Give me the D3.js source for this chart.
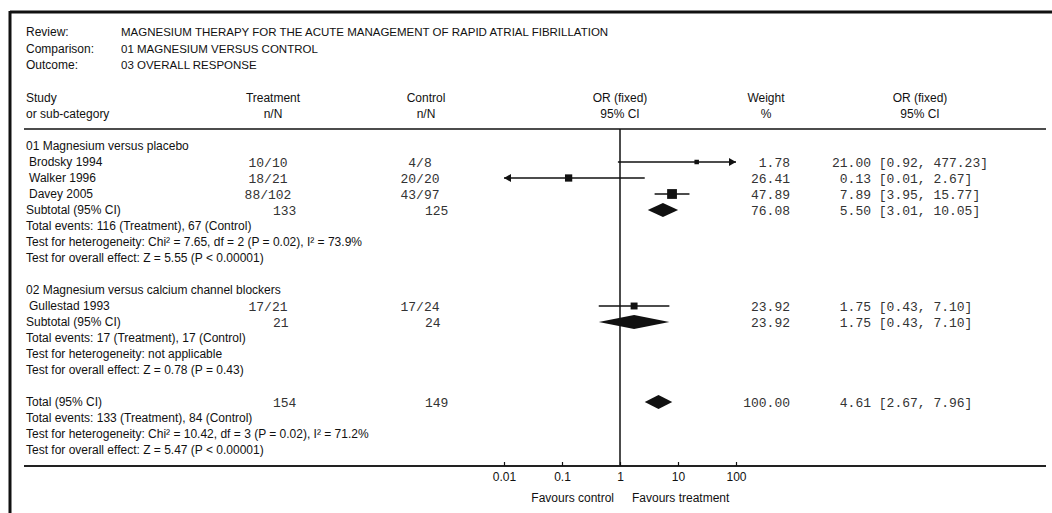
<!DOCTYPE html>
<html>
<head>
  <meta charset="utf-8">
  <title>Forest plot</title>
<style>
  body { margin: 0; background: #fff; }
  .sans { font-family: "Liberation Sans", Arial, sans-serif; font-size: 12px; fill: #111; }
  .caps { font-family: "Liberation Sans", Arial, sans-serif; font-size: 11.5px; fill: #111; }
  .mono { font-family: "Liberation Mono", "Courier New", monospace; font-size: 13px; fill: #333; }
  .axis text { font-family: "Liberation Sans", Arial, sans-serif; font-size: 12px; fill: #111; }
  .axis line { stroke: #111; stroke-width: 1.2; }
</style>
</head>
<body>
<svg width="1052" height="513"></svg>
<script src="https://d3js.org/d3.v7.min.js"></script>
<script>

// header
var headLabels = ["Review:", "Comparison:", "Outcome:"];
var headValues = ["MAGNESIUM THERAPY FOR THE ACUTE MANAGEMENT OF RAPID ATRIAL FIBRILLATION",
                  "01 MAGNESIUM VERSUS CONTROL", "03 OVERALL RESPONSE"];

// studies
var studies   = ["Brodsky 1994", "Walker 1996", "Davey 2005", "Gullestad 1993"];
var studyRow  = [1, 2, 3, 10];
var treatment = ["10/10", "18/21", "88/102", "17/21"];
var control   = ["4/8", "20/20", "43/97", "17/24"];
var weight    = [1.78, 26.41, 47.89, 23.92];
var oddsRatio = [21.00, 0.13, 7.89, 1.75];
var ciLow     = [0.92, 0.01, 3.95, 0.43];
var ciHigh    = [477.23, 2.67, 15.77, 7.10];

// subtotals and total
var sumLabels = ["Subtotal (95% CI)", "Subtotal (95% CI)", "Total (95% CI)"];
var sumRow    = [4, 11, 16];
var sumTreatN = [133, 21, 154];
var sumCtrlN  = [125, 24, 149];
var sumWeight = [76.08, 23.92, 100.00];
var sumOR     = [5.50, 1.75, 4.61];
var sumLow    = [3.01, 0.43, 2.67];
var sumHigh   = [10.05, 7.10, 7.96];

// group headings and footnotes
var groupNames = ["01 Magnesium versus placebo", "02 Magnesium versus calcium channel blockers"];
var groupRow   = [0, 9];
var notes = [
  "Total events: 116 (Treatment), 67 (Control)",
  "Test for heterogeneity: Chi\u00b2 = 7.65, df = 2 (P = 0.02), I\u00b2 = 73.9%",
  "Test for overall effect: Z = 5.55 (P < 0.00001)",
  "Total events: 17 (Treatment), 17 (Control)",
  "Test for heterogeneity: not applicable",
  "Test for overall effect: Z = 0.78 (P = 0.43)",
  "Total events: 133 (Treatment), 84 (Control)",
  "Test for heterogeneity: Chi\u00b2 = 10.42, df = 3 (P = 0.02), I\u00b2 = 71.2%",
  "Test for overall effect: Z = 5.47 (P < 0.00001)"
];
var noteRow = [5, 6, 7, 12, 13, 14, 17, 18, 19];

var tickValues = [0.01, 0.1, 1, 10, 100];

var svg = d3.select("svg");

var x = d3.scaleLog().domain([0.01, 100]).range([504, 736]);
var y = d3.scaleLinear().domain([0, 19]).range([146, 450]);
var box = d3.scaleSqrt().domain([0, 50]).range([0, 10]);

var fmt2 = d3.format(".2f");

// frame
svg.append("line").attr("x1", 10).attr("x2", 1052).attr("y1", 12).attr("y2", 12)
    .attr("stroke", "#111").attr("stroke-width", 3);
svg.append("line").attr("x1", 10).attr("x2", 10).attr("y1", 11).attr("y2", 513)
    .attr("stroke", "#111").attr("stroke-width", 3);

// review info
headLabels.forEach(function(t, i) {
  svg.append("text").attr("class", "sans").attr("x", 26).attr("y", 32 + i * 16.5)
    .attr("dy", "0.35em").text(t);
  svg.append("text").attr("class", "caps").attr("x", 121).attr("y", 32 + i * 16.5)
    .attr("dy", "0.35em").text(headValues[i]);
});

// column headers
var cols = [
  {x: 26,  a: "start",  t: ["Study", "or sub-category"]},
  {x: 273, a: "middle", t: ["Treatment", "n/N"]},
  {x: 426, a: "middle", t: ["Control", "n/N"]},
  {x: 620, a: "middle", t: ["OR (fixed)", "95% CI"]},
  {x: 766, a: "middle", t: ["Weight", "%"]},
  {x: 920, a: "middle", t: ["OR (fixed)", "95% CI"]}
];
cols.forEach(function(c) {
  c.t.forEach(function(t, i) {
    svg.append("text").attr("class", "sans").attr("x", c.x).attr("y", 98 + i * 15.5)
      .attr("dy", "0.35em").attr("text-anchor", c.a).text(t);
  });
});

svg.append("line").attr("x1", 24).attr("x2", 1046).attr("y1", 129).attr("y2", 129)
    .attr("stroke", "#111").attr("stroke-width", 1.5);

// line of no effect
svg.append("line").attr("x1", x(1)).attr("x2", x(1)).attr("y1", 129).attr("y2", 466)
    .attr("stroke", "#111").attr("stroke-width", 1.5);

// axis
svg.append("line").attr("x1", 24).attr("x2", 1046).attr("y1", 466).attr("y2", 466)
    .attr("stroke", "#222").attr("stroke-width", 2);
var axis = svg.append("g").attr("class", "axis").attr("transform", "translate(0,466)")
    .call(d3.axisBottom(x).tickValues(tickValues).tickSizeInner(-4).tickSizeOuter(0)
      .tickPadding(6).tickFormat(function(d) { return String(d); }));
axis.select(".domain").remove();

svg.append("text").attr("class", "sans").attr("x", x(1) - 6).attr("y", 498).attr("dy", "0.35em")
    .attr("text-anchor", "end").text("Favours control");
svg.append("text").attr("class", "sans").attr("x", x(1) + 12).attr("y", 498).attr("dy", "0.35em")
    .text("Favours treatment");

// group headings and notes
groupNames.forEach(function(t, i) {
  svg.append("text").attr("class", "sans").attr("x", 26).attr("y", y(groupRow[i]))
    .attr("dy", "0.35em").text(t);
});
notes.forEach(function(t, i) {
  svg.append("text").attr("class", "sans").attr("x", 26).attr("y", y(noteRow[i]))
    .attr("dy", "0.35em").text(t);
});

function ciText(g, yy, or, lo, hi) {
  g.append("text").attr("class", "mono").attr("x", 871).attr("y", yy).attr("dy", "0.35em")
    .attr("text-anchor", "end").text(fmt2(or));
  g.append("text").attr("class", "mono").attr("x", 871).attr("y", yy).attr("dy", "0.35em")
    .attr("xml:space", "preserve").style("white-space", "pre")
    .text(" [" + fmt2(lo) + ", " + fmt2(hi) + "]");
}

// study rows
var arrow = function(x0, yy, dir) {
  return "M" + x0 + "," + yy + "L" + (x0 - dir * 7) + "," + (yy - 4) + "L" + (x0 - dir * 7) + "," + (yy + 4) + "Z";
};
studies.forEach(function(s, i) {
  var yy = y(studyRow[i]);
  var g = svg.append("g");
  g.append("text").attr("class", "sans").attr("x", 29).attr("y", yy).attr("dy", "0.35em").text(s);
  g.append("text").attr("class", "mono").attr("x", 268).attr("y", yy).attr("dy", "0.35em")
    .attr("text-anchor", "middle").text(treatment[i]);
  g.append("text").attr("class", "mono").attr("x", 420).attr("y", yy).attr("dy", "0.35em")
    .attr("text-anchor", "middle").text(control[i]);
  g.append("text").attr("class", "mono").attr("x", 790).attr("y", yy).attr("dy", "0.35em")
    .attr("text-anchor", "end").text(fmt2(weight[i]));
  ciText(g, yy, oddsRatio[i], ciLow[i], ciHigh[i]);

  var lo = Math.max(ciLow[i], 0.01), hi = Math.min(ciHigh[i], 100);
  g.append("line").attr("x1", x(lo)).attr("x2", x(hi)).attr("y1", yy).attr("y2", yy)
    .attr("stroke", "#111").attr("stroke-width", 1.5);
  if (ciHigh[i] > 100) g.append("path").attr("d", arrow(x(100), yy, 1)).attr("fill", "#111");
  if (ciLow[i] <= 0.01) g.append("path").attr("d", arrow(x(0.01), yy, -1)).attr("fill", "#111");
  var b = Math.max(box(weight[i]), 4.5);
  g.append("rect").attr("x", x(oddsRatio[i]) - b / 2).attr("y", yy - b / 2)
    .attr("width", b).attr("height", b).attr("fill", "#111");
});

// subtotal rows
sumLabels.forEach(function(s, i) {
  var yy = y(sumRow[i]);
  var g = svg.append("g");
  g.append("text").attr("class", "sans").attr("x", 26).attr("y", yy).attr("dy", "0.35em").text(s);
  g.append("text").attr("class", "mono").attr("x", 273).attr("y", yy).attr("dy", "0.35em").text(sumTreatN[i]);
  g.append("text").attr("class", "mono").attr("x", 425).attr("y", yy).attr("dy", "0.35em").text(sumCtrlN[i]);
  g.append("text").attr("class", "mono").attr("x", 790).attr("y", yy).attr("dy", "0.35em")
    .attr("text-anchor", "end").text(fmt2(sumWeight[i]));
  ciText(g, yy, sumOR[i], sumLow[i], sumHigh[i]);
  var h = 7;
  g.append("path").attr("fill", "#111")
    .attr("d", "M" + x(sumLow[i]) + "," + yy + "L" + x(sumOR[i]) + "," + (yy - h) +
               "L" + x(sumHigh[i]) + "," + yy + "L" + x(sumOR[i]) + "," + (yy + h) + "Z");
});

</script>
</body>
</html>
